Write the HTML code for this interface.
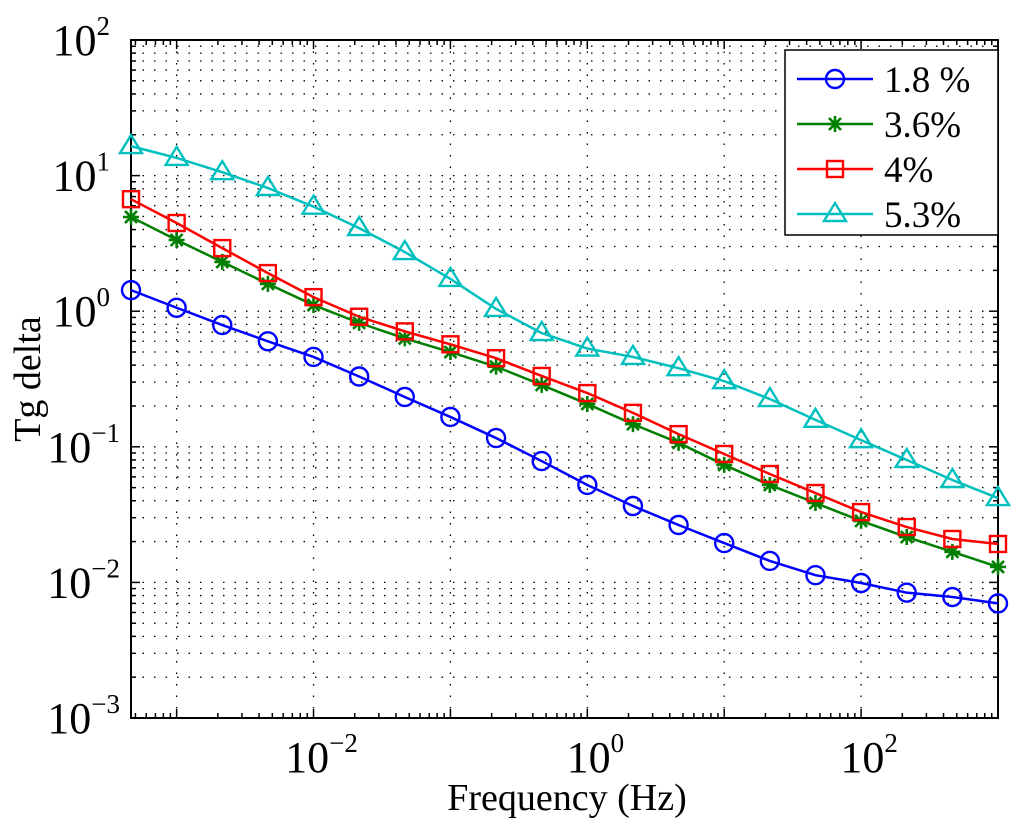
<!DOCTYPE html>
<html><head><meta charset="utf-8"><style>
body{margin:0;background:#fff}
svg{display:block;font-family:"Liberation Serif",serif}
</style></head><body>
<svg id="chart" width="1024" height="830">
<rect width="1024" height="830" fill="#fff"/>
<g id="grid"></g>
<g id="axes"></g>
<g id="series"></g>
<text x="567" y="810" font-size="38" text-anchor="middle">Frequency (Hz)</text>
<text transform="translate(40,379) rotate(-90)" font-size="38" text-anchor="middle">Tg delta</text>
<g id="legend"></g>
</svg>
<script>
const seriesNames=["1.8 %","3.6%","4%","5.3%"];
const colors=["#0000ff","#007f00","#ff0000","#00bfbf"];
const markers=["circle","star","square","triangle"];
const logFreqStart=-10/3;
const pointCount=20;
const s18=[1.43,1.06,0.79,0.60,0.46,0.33,0.233,0.166,0.116,0.0785,0.0523,0.0366,0.0265,0.0195,0.0144,0.0113,0.0099,0.0084,0.0078,0.0070];
const s36=[4.95,3.35,2.31,1.59,1.11,0.82,0.63,0.50,0.39,0.286,0.207,0.147,0.107,0.0735,0.0523,0.0385,0.0284,0.0216,0.0168,0.0130];
const s4=[6.7,4.47,2.92,1.91,1.27,0.91,0.71,0.57,0.45,0.333,0.249,0.178,0.124,0.0885,0.063,0.0456,0.033,0.0256,0.0209,0.0192];
const s53=[16.5,13.5,10.6,8.1,5.9,4.1,2.73,1.73,1.04,0.69,0.53,0.46,0.38,0.305,0.225,0.158,0.112,0.080,0.0569,0.0419];
const xTickExp=[-2,0,2];
const yTickExp=[2,1,0,-1,-2,-3];
const allSeries=[s18,s36,s4,s53];
const freqs=[];for(let i=0;i<pointCount;i++)freqs.push(Math.pow(10,logFreqStart+i/3));

const L=131,R=998,T=40,B=718;
const xMin=logFreqStart,xMax=3,yMin=-3,yMax=2;
const X=v=>L+(Math.log10(v)-xMin)/(xMax-xMin)*(R-L);
const Y=v=>B-(Math.log10(v)-yMin)/(yMax-yMin)*(B-T);
const NS="http://www.w3.org/2000/svg";
function mk(tag,attrs,parent){const e=document.createElementNS(NS,tag);for(const k in attrs)e.setAttribute(k,attrs[k]);parent.appendChild(e);return e;}
const grid=document.getElementById('grid'),axes=document.getElementById('axes'),ser=document.getElementById('series'),leg=document.getElementById('legend');
for(let d=-4;d<=3;d++)for(let m=1;m<=9;m++){const v=m*Math.pow(10,d);const lv=Math.log10(v);
 if(lv>xMin+1e-9&&lv<xMax-1e-9){const x=X(v);
  if(m==1){const g=mk('line',{x1:x,x2:x,y1:T,y2:B,stroke:'#000','stroke-width':1.3,'stroke-dasharray':'1.5 10'},grid);
  }
  const len=m==1?9:5;mk('line',{x1:x,x2:x,y1:B,y2:B-len,stroke:'#000','stroke-width':1.5},axes);mk('line',{x1:x,x2:x,y1:T,y2:T+len,stroke:'#000','stroke-width':1.5},axes);}
 if(lv>yMin+1e-9&&lv<yMax-1e-9){const y=Y(v);const g=mk('line',{x1:L,x2:R,y1:y,y2:y,stroke:'#000','stroke-width':1.3,'stroke-dasharray':'1.5 10'},grid);
  
  const len=m==1?9:5;mk('line',{x1:L,x2:L+len,y1:y,y2:y,stroke:'#000','stroke-width':1.5},axes);mk('line',{x1:R,x2:R-len,y1:y,y2:y,stroke:'#000','stroke-width':1.5},axes);}
}
const fr=mk('rect',{x:L,y:T,width:R-L,height:B-T,fill:'none',stroke:'#000','stroke-width':2},axes);

function tickLabel(x,y,e,anchor,name){const t=mk('text',{x:x,y:y,'font-size':44,'text-anchor':anchor},axes);
 
 const a=document.createElementNS(NS,'tspan');a.textContent='10';t.appendChild(a);
 const b=document.createElementNS(NS,'tspan');b.setAttribute('dy','-20');b.setAttribute('font-size','27');b.textContent=String(e).replace('-','\u2212');t.appendChild(b);}
xTickExp.forEach(e=>tickLabel(X(Math.pow(10,e))+8,772,e,'middle','x-tick-label'));
yTickExp.forEach(e=>tickLabel(e<0?120:110,Y(Math.pow(10,e))+15,e,'end','y-tick-label'));
function marker(type,x,y,c,parent){let el;
 if(type=='circle')el=mk('circle',{cx:x,cy:y,r:9,fill:'none',stroke:c,'stroke-width':2.4},parent);
 else if(type=='square')el=mk('rect',{x:x-8,y:y-8,width:16,height:16,fill:'none',stroke:c,'stroke-width':2.4},parent);
 else if(type=='triangle')el=mk('polygon',{points:`${x},${y-11} ${x+11},${y+7} ${x-11},${y+7}`,fill:'none',stroke:c,'stroke-width':2.4},parent);
 else{el=mk('path',{d:`M${x-8} ${y}H${x+8}M${x} ${y-8}V${y+8}M${x-6} ${y-6}L${x+6} ${y+6}M${x-6} ${y+6}L${x+6} ${y-6}`,stroke:c,'stroke-width':2.6},parent);}
 return el;}
allSeries.forEach((s,i)=>{
 const pts=s.map((v,j)=>X(freqs[j])+','+Y(v)).join(' ');
 const pl=mk('polyline',{points:pts,fill:'none',stroke:colors[i],'stroke-width':2.5},ser);
 
 s.forEach((v,j)=>{const m=marker(markers[i],X(freqs[j]),Y(v),colors[i],ser);
  });
});
const lb=mk('rect',{x:785,y:50,width:213,height:185,fill:'#fff',stroke:'#000','stroke-width':1.5},leg);

seriesNames.forEach((n,i)=>{const y=79+i*45;
 const g=mk('g',{},leg);
 mk('line',{x1:797,x2:873,y1:y,y2:y,stroke:colors[i],'stroke-width':2.5},g);
 marker(markers[i],835,y,colors[i],g);
 const t=mk('text',{x:884,y:y+13,'font-size':37},g);t.textContent=n;
 });
</script>
</body></html>
